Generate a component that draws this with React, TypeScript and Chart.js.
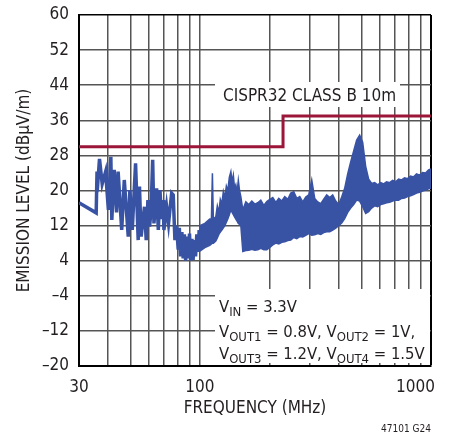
import React, { useEffect, useRef } from 'react';
import { Chart, registerables } from 'chart.js';

Chart.register(...registerables);

const FONT = '"Liberation Sans Narrow", "DejaVu Sans Condensed", "Liberation Sans", sans-serif';
const TEXT = '#231f20';
const BLUE = '#3953a4';
const RED = '#9b1639';
const GRID = '#555555';

// Axis ticks / grid
const yTickValues = [-20, -12, -4, 4, 12, 20, 28, 36, 44, 52, 60];
const xGridFreqs = [30, 40, 50, 60, 70, 80, 90, 100, 200, 300, 400, 500, 600, 700, 800, 900, 1000];
const xTickLabels = ['30', '100', '1000'];
const xTickValues = [30, 100, 1000];

// CISPR32 Class B 10m limit
const limitFreq = [30, 229, 229, 1000];
const limitLevel = [30, 30, 37, 37];

// Spiky emission trace, 30 MHz – 100 MHz
const traceFreq = [
  30, 35.6, 35.9, 36.3, 36.8, 37.8, 39.1, 40.2, 41.2, 41.6, 42.6, 43.6, 44.3, 45.9, 47.1,
  49.0, 49.8, 51.0, 52.7, 54.1, 54.8, 55.7, 57.6, 58.6, 59.6, 60.6, 61.5, 62.5, 63.3, 65.0,
  66.1, 67.2, 68.3, 69.4, 69.9, 71.8, 73.2, 75.5, 76.7, 78.0, 79.3, 80.6, 81.5, 82.5, 83.6,
  84.7, 85.7, 86.8, 88.0, 89.0, 90.2, 91.2, 92.4, 93.5, 94.6, 95.8, 97.0, 98.3, 99.3, 100,
];
const traceLevel = [
  17.2, 14.9, 24.3, 22.8, 27.2, 21.5, 24.3, 15.6, 27.7, 13.3, 24.7, 15.0, 24.3, 11.0, 22.4,
  9.5, 20.1, 11.0, 26.2, 8.7, 20.9, 9.5, 16.3, 8.7, 17.8, 11.8, 15.5, 27.0, 12.5, 20.5,
  11.0, 20.1, 13.5, 17.8, 11.0, 16.3, 12.5, 19.4, 19.0, 8.7, 12.0, 6.5, 11.5, 5.0, 10.5,
  4.5, 10.0, 4.0, 9.5, 4.5, 10.2, 4.0, 9.0, 4.2, 8.7, 5.0, 10.0, 6.0, 11.0, 6.5,
];

// Dense emission band, 100 MHz – 1000 MHz (upper / lower envelope)
const bandFreq = [
  100, 105.1, 110.4, 112.2, 113.3, 114.4, 117.2, 119.0, 120.8, 122.6, 124.5, 126.4, 128.3,
  130.2, 132.1, 134.1, 136.2, 137.9, 139.6, 141.3, 143.1, 144.9, 146.7, 148.5, 150.4,
  153.4, 158.1, 162.8, 167.8, 172.9, 178.1, 183.5, 189.1, 194.8, 200.7, 206.8, 213.1, 219.5,
  226.2, 233.0, 240.1, 247.3, 254.8, 262.6, 270.5, 278.7, 287.2, 295.9, 304.8, 314.0, 323.6,
  333.4, 343.5, 353.9, 364.6, 375.6, 387.0, 398.7, 410.8, 423.2, 436.1, 449.3, 462.9, 476.9,
  491.3, 506.2, 521.6, 537.4, 553.6, 570.4, 587.7, 605.5, 623.8, 642.7, 662.2, 682.2, 702.9,
  724.2, 746.1, 768.7, 792.0, 816.0, 840.7, 866.2, 892.4, 919.4, 947.3, 976.0, 1000,
];
const bandUpper = [
  12.0, 12.5, 13.5, 13.5, 23.9, 13.5, 14.0, 16.5, 15.0, 18.0, 17.0, 19.8, 18.5,
  21.0, 20.0, 23.0, 24.3, 22.0, 23.5, 20.5, 21.3, 19.5, 22.3, 20.0, 18.6,
  15.6, 17.4, 16.8, 17.6, 16.9, 17.2, 17.8, 16.6, 17.5, 18.0, 18.4, 17.3, 18.2,
  17.6, 18.6, 18.0, 19.4, 19.7, 18.2, 18.6, 17.4, 18.5, 19.0, 22.4, 18.2, 17.4,
  17.0, 18.0, 19.0, 18.4, 19.0, 17.6, 16.8, 18.5, 20.5, 23.8, 26.5, 29.0, 31.5,
  32.6, 31.0, 25.5, 22.6, 21.6, 21.8, 21.3, 21.8, 21.5, 22.0, 21.8, 22.3, 22.0,
  22.6, 22.4, 22.9, 22.7, 23.3, 23.1, 23.8, 23.5, 24.1, 24.0, 24.7, 24.9,
];
const bandLower = [
  6.2, 7.0, 7.5, 7.8, 8.0, 8.0, 8.5, 9.2, 10.0, 10.5, 11.0, 11.5, 12.0,
  12.8, 13.5, 14.5, 15.6, 15.0, 14.5, 14.0, 13.5, 13.0, 12.5, 12.3, 12.0,
  6.1, 6.3, 6.4, 6.6, 6.4, 6.5, 6.8, 6.5, 6.5, 7.0, 7.6, 8.0, 7.8,
  8.2, 8.3, 8.6, 8.7, 9.3, 9.0, 9.5, 9.4, 9.8, 10.2, 9.8, 9.9, 10.2,
  10.0, 10.4, 10.6, 10.6, 11.0, 11.4, 12.0, 12.6, 13.6, 15.0, 16.0, 16.8, 17.8,
  17.6, 16.3, 14.8, 15.2, 16.0, 16.5, 16.3, 16.8, 17.0, 17.2, 17.3, 17.6, 17.8,
  17.8, 18.2, 18.3, 18.6, 18.8, 19.1, 19.4, 19.6, 19.9, 20.1, 20.4, 20.5,
];

const toPoints = (xs: number[], ys: number[]) => xs.map((x, i) => ({ x, y: ys[i] }));

type Run = { t: string; sub?: boolean };

function drawRuns(ctx: CanvasRenderingContext2D, runs: Run[], x: number, y: number) {
  let cx = x;
  for (const r of runs) {
    ctx.font = r.sub ? `13px ${FONT}` : `16.5px ${FONT}`;
    ctx.fillText(r.t, cx, r.sub ? y + 4 : y);
    cx += ctx.measureText(r.t).width;
  }
}

const annotationPlugin = {
  id: 'annotations',
  beforeDatasetsDraw(chart: any) {
    const { ctx, chartArea } = chart;
    ctx.save();
    ctx.fillStyle = '#ffffff';
    // label backgrounds (cover the grid)
    ctx.fillRect(chartArea.left + 136, chartArea.top + 67, 185, 25);
    ctx.fillRect(chartArea.left + 136, chartArea.top + 274, chartArea.right - chartArea.left - 137, 74);
    ctx.restore();
  },
  afterDraw(chart: any) {
    const { ctx, chartArea, scales } = chart;
    ctx.save();
    ctx.fillStyle = TEXT;
    ctx.textBaseline = 'alphabetic';
    ctx.font = `17px ${FONT}`;
    ctx.textAlign = 'left';
    ctx.fillText('CISPR32 CLASS B 10m', chartArea.left + 144, chartArea.top + 85.5);

    const lx = chartArea.left + 140;
    drawRuns(ctx, [{ t: 'V' }, { t: 'IN', sub: true }, { t: ' = 3.3V' }], lx, chartArea.top + 296.5);
    drawRuns(
      ctx,
      [{ t: 'V' }, { t: 'OUT1', sub: true }, { t: ' = 0.8V, V' }, { t: 'OUT2', sub: true }, { t: ' = 1V,' }],
      lx,
      chartArea.top + 321.5,
    );
    drawRuns(
      ctx,
      [{ t: 'V' }, { t: 'OUT3', sub: true }, { t: ' = 1.2V, V' }, { t: 'OUT4', sub: true }, { t: ' = 1.5V' }],
      lx,
      chartArea.top + 343.5,
    );

    // x tick labels
    ctx.font = `17px ${FONT}`;
    const xs = scales.x;
    xTickValues.forEach((v, i) => {
      const px = xs.getPixelForValue(v);
      if (i === xTickValues.length - 1) {
        ctx.textAlign = 'right';
        ctx.fillText(xTickLabels[i], px + 4, chartArea.bottom + 26);
      } else {
        ctx.textAlign = 'center';
        ctx.fillText(xTickLabels[i], px, chartArea.bottom + 26);
      }
    });

    ctx.font = `10px ${FONT}`;
    ctx.textAlign = 'right';
    ctx.fillText('47101 G24', chartArea.right, chartArea.bottom + 66);
    ctx.restore();
  },
};

export default function App() {
  const canvasRef = useRef<HTMLCanvasElement>(null);

  useEffect(() => {
    if (!canvasRef.current) return;
    const chart = new Chart(canvasRef.current, {
      type: 'line',
      data: {
        datasets: [
          {
            label: 'CISPR32 Class B 10m',
            data: toPoints(limitFreq, limitLevel),
            borderColor: RED,
            borderWidth: 3,
            pointRadius: 0,
            fill: false,
            tension: 0,
          },
          {
            label: 'Emission trace',
            data: toPoints(traceFreq, traceLevel),
            borderColor: BLUE,
            borderWidth: 3.5,
            pointRadius: 0,
            fill: false,
            tension: 0,
          },
          {
            label: 'Emission upper',
            data: toPoints(bandFreq, bandUpper),
            borderColor: BLUE,
            borderWidth: 1.5,
            pointRadius: 0,
            fill: false,
            tension: 0,
          },
          {
            label: 'Emission lower',
            data: toPoints(bandFreq, bandLower),
            borderColor: BLUE,
            backgroundColor: BLUE,
            borderWidth: 1.5,
            pointRadius: 0,
            fill: '-1',
            tension: 0,
          },
        ],
      },
      options: {
        animation: false,
        responsive: true,
        maintainAspectRatio: false,
        layout: { padding: { left: 0, right: 20, top: 15, bottom: 0 } },
        plugins: {
          legend: { display: false },
          tooltip: { enabled: false },
        },
        scales: {
          x: {
            type: 'logarithmic',
            min: 30,
            max: 1000,
            afterBuildTicks: (s: any) => {
              s.ticks = xGridFreqs.map((v) => ({ value: v }));
            },
            afterFit: (s: any) => {
              s.height = 70;
              s.paddingLeft = 0;
              s.paddingRight = 0;
            },
            ticks: { display: false },
            grid: {
              drawTicks: false,
              color: (c: any) => (c.tick && c.tick.value === 1000 ? '#000' : GRID),
              lineWidth: (c: any) => (c.tick && c.tick.value === 1000 ? 2 : 1.5),
            },
            border: { display: true, color: '#000', width: 2 },
            title: {
              display: true,
              text: 'FREQUENCY (MHz)',
              color: TEXT,
              font: { family: FONT, size: 17 },
              padding: { top: 0, bottom: 17 },
            },
          },
          y: {
            type: 'linear',
            min: -20,
            max: 60,
            afterBuildTicks: (s: any) => {
              s.ticks = yTickValues.map((v) => ({ value: v }));
            },
            afterFit: (s: any) => {
              s.width = 79;
              s.paddingTop = 0;
              s.paddingBottom = 0;
            },
            ticks: {
              color: TEXT,
              font: { family: FONT, size: 17 },
              padding: 10,
              callback: (v: any) => (Number(v) < 0 ? '\u2013' + Math.abs(Number(v)) : String(v)),
            },
            grid: {
              drawTicks: false,
              color: (c: any) => (c.tick && c.tick.value === 60 ? '#000' : GRID),
              lineWidth: 1.5,
            },
            border: { display: true, color: '#000', width: 2 },
            title: {
              display: true,
              text: 'EMISSION LEVEL (dB\u00b5V/m)',
              color: TEXT,
              font: { family: FONT, size: 17 },
              padding: { top: 14.5, bottom: 0 },
            },
          },
        },
      },
      plugins: [annotationPlugin],
    });
    return () => chart.destroy();
  }, []);

  return (
    <div style={{ position: 'fixed', left: 0, top: 0, width: 451, height: 436, background: '#fff' }}>
      <canvas ref={canvasRef} />
    </div>
  );
}
